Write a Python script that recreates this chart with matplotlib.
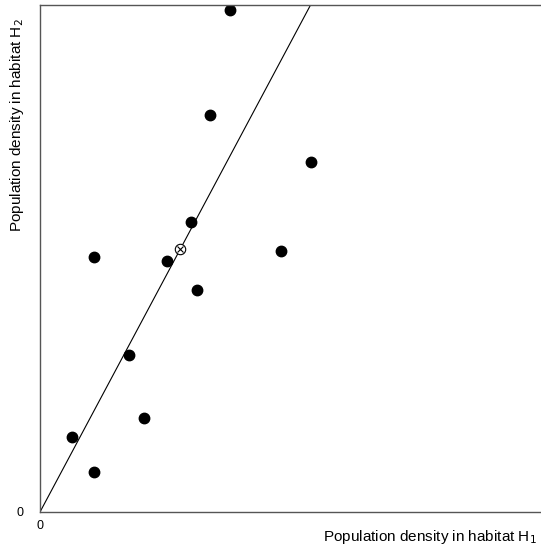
import matplotlib.pyplot as plt

plt.rcParams['font.family'] = ['Liberation Sans', 'DejaVu Sans']

# population densities
dens_h1 = [38.0, 34.0, 54.0, 30.2, 10.8, 25.4, 48.2, 31.4, 17.8, 20.8, 6.4, 10.8]
dens_h2 = [99.0, 78.3, 69.0, 57.2, 50.3, 49.5, 51.5, 43.8, 31.0, 18.6, 14.8, 7.9]
center_x = [28.0]
center_y = [51.9]
line_x = [0, 54.0]
line_y = [0, 100.0]

fig = plt.figure(figsize=(5.41, 5.47), dpi=100)
ax = fig.add_axes([40 / 541, 35 / 547, 501 / 541, 507 / 547])

ax.plot(line_x, line_y, color='black', lw=0.8)
ax.plot(dens_h1, dens_h2, 'o', color='black', ms=7.5, ls='none')
ax.plot(center_x, center_y, 'o', mfc='white', mec='black', mew=0.8, ms=7.5)
ax.plot(center_x, center_y, 'x', color='black', mew=0.8, ms=5)

ax.set_xlim(0, 100)
ax.set_ylim(0, 100)
ax.set_xticks([0])
ax.set_yticks([0])
ax.tick_params(length=0, labelsize=9)
ax.tick_params(axis='x', pad=6)
ax.tick_params(axis='y', pad=12)
for s in ax.spines.values():
    s.set_color('#555555')
    s.set_linewidth(1)
ax.spines['right'].set_visible(False)

fig.text(537 / 541, 1 - 537 / 547, 'Population density in habitat H$_1$',
         ha='right', va='center', fontsize=11)
fig.text(17 / 541, 1 - 18 / 547, 'Population density in habitat H$_2$',
         ha='center', va='top', rotation=90, fontsize=11)

fig.savefig('out.png', dpi=100)
